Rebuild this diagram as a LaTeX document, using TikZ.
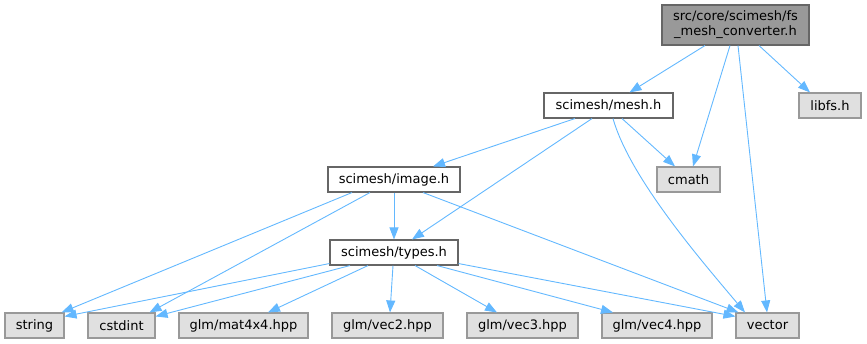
\documentclass[tikz,border=0pt]{standalone}
\usepackage{fontspec}
\setmainfont{DejaVu Sans}
\usetikzlibrary{arrows.meta}
\definecolor{edgeblue}{HTML}{63B8FF}
\definecolor{boxgray}{HTML}{E0E0E0}
\definecolor{bordergray}{HTML}{999999}
\definecolor{borderdark}{HTML}{666666}
\definecolor{topfill}{HTML}{999999}
\begin{document}
\begin{tikzpicture}[x=1pt,y=-1pt,
  base/.style={rectangle, inner sep=0pt, minimum height=25pt, line width=1.1pt,
    font=\fontsize{13}{15}\selectfont, text=black},
  extnode/.style={base, draw=bordergray, fill=boxgray},
  filenode/.style={base, draw=borderdark, fill=white},
  topnode/.style={base, draw=borderdark, fill=topfill, align=center, minimum height=40pt},
  dep/.style={draw=edgeblue, line width=0.9pt, -{Triangle[length=12pt,width=9pt]}}
]
\useasboundingbox (0,0) rectangle (867,344);

\node[topnode, minimum width=147pt] (top) at (735.5,25) {src/core/scimesh/fs\\\_mesh\_converter.h};
\node[extnode, minimum width=62pt] (libfs) at (830,105.5) {libfs.h};
\node[filenode, minimum width=129pt] (mesh) at (608.5,105.5) {scimesh/mesh.h};
\node[extnode, minimum width=63pt] (cmath) at (688.5,179.5) {cmath};
\node[filenode, minimum width=132pt] (image) at (394,179.5) {scimesh/image.h};
\node[filenode, minimum width=128pt] (types) at (394,252.5) {scimesh/types.h};
\node[extnode, minimum width=59pt] (string) at (34.5,325.5) {string};
\node[extnode, minimum width=67pt] (cstdint) at (121.5,325.5) {cstdint};
\node[extnode, minimum width=129pt] (mat) at (243.5,325.5) {glm/mat4x4.hpp};
\node[extnode, minimum width=111pt] (vec2) at (387.5,325.5) {glm/vec2.hpp};
\node[extnode, minimum width=111pt] (vec3) at (522.5,325.5) {glm/vec3.hpp};
\node[extnode, minimum width=110pt] (vec4) at (657,325.5) {glm/vec4.hpp};
\node[extnode, minimum width=63pt] (vector) at (767.5,325.5) {vector};

% from top
\draw[dep] ([xshift=-30.5pt]top.south) -- ([xshift=21pt]mesh.north);
\draw[dep] ([xshift=-5.5pt]top.south) -- ([xshift=4.5pt]cmath.north);
\draw[dep] ([xshift=2.5pt]top.south) -- ([xshift=-0.5pt]vector.north);
\draw[dep] ([xshift=23.5pt]top.south) -- ([xshift=-20pt]libfs.north);
% from mesh
\draw[dep] ([xshift=-33.5pt]mesh.south) -- ([xshift=39pt]image.north);
\draw[dep] ([xshift=-16.5pt]mesh.south) -- ([xshift=18pt]types.north);
\draw[dep] ([xshift=13.5pt]mesh.south) -- ([xshift=-13.5pt]cmath.north);
\draw[dep] ([xshift=4.5pt]mesh.south) .. controls +(17,60) and +(-42,-50) .. ([xshift=-22.5pt]vector.north);
% from image
\draw[dep] (image.south) -- (types.north);
\draw[dep] ([xshift=-42pt]image.south) -- ([xshift=-3pt]string.north east);
\draw[dep] ([xshift=-24pt]image.south) -- ([xshift=28pt]cstdint.north);
\draw[dep] ([xshift=29pt]image.south) -- ([xshift=3pt]vector.north west);
% from types
\draw[dep] ([yshift=2pt]types.south west) -- ([yshift=-4pt]string.north east);
\draw[dep] ([xshift=-44pt]types.south) -- ([yshift=-4pt]cstdint.north east);
\draw[dep] ([xshift=-26pt]types.south) -- ([xshift=24.5pt]mat.north);
\draw[dep] ([xshift=-1pt]types.south) -- ([xshift=2.5pt]vec2.north);
\draw[dep] ([xshift=21pt]types.south) -- ([xshift=-25.5pt]vec3.north);
\draw[dep] ([xshift=43pt]types.south) -- ([xshift=-44pt]vec4.north);
\draw[dep] ([yshift=2pt]types.south east) -- ([yshift=-4pt]vector.north west);
\end{tikzpicture}
\end{document}
